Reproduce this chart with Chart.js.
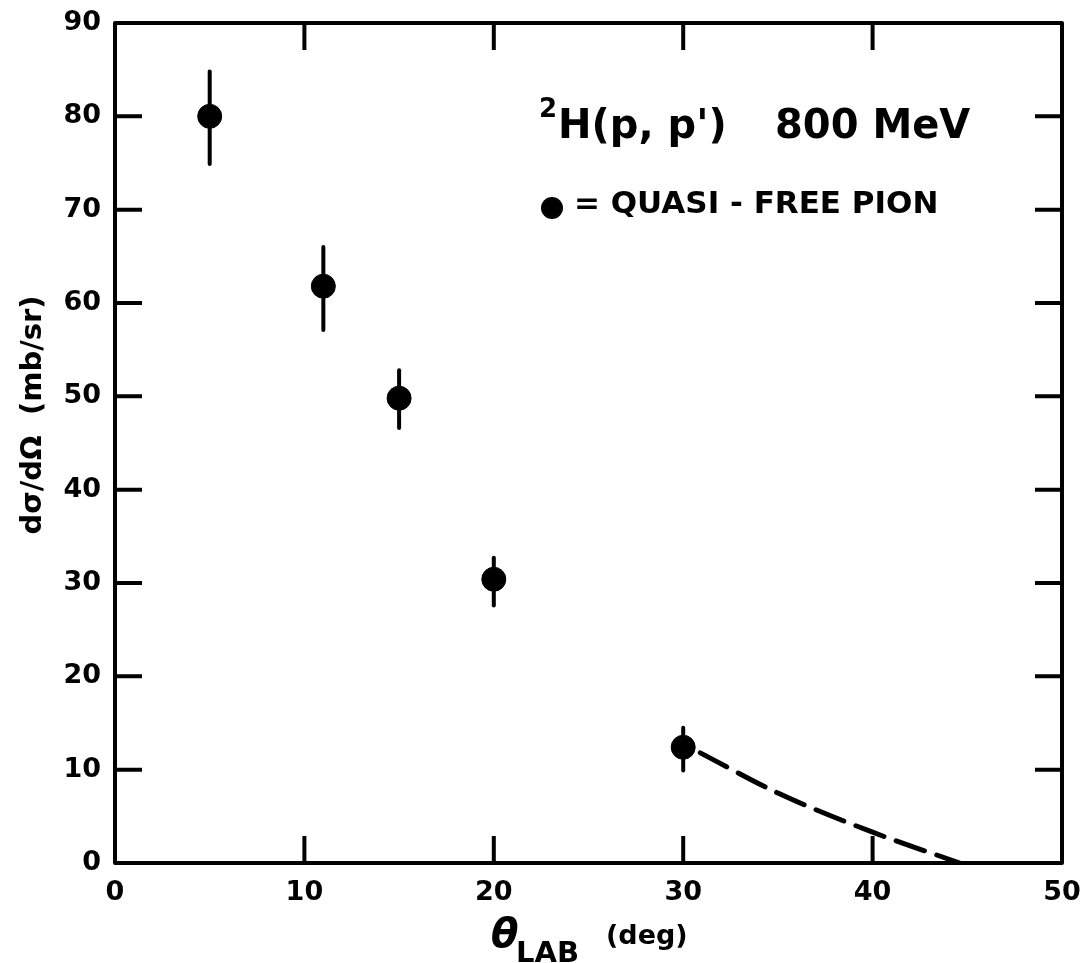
<!DOCTYPE html>
<html>
<head>
<meta charset="utf-8">
<script src="https://cdn.jsdelivr.net/npm/chart.js@4.4.0/dist/chart.umd.min.js"></script>
<style>
  html, body { margin: 0; padding: 0; background: #fff; }
  #wrap { width: 1087px; height: 963px; position: relative; }
</style>
</head>
<body>
<div id="wrap"><canvas id="myChart"></canvas></div>
<script>
// measured cross sections, 2H(p,p') at 800 MeV
let angles = [5, 11, 15, 20, 30];
let crossSection = [80, 61.8, 49.8, 30.4, 12.4];
let errUp = [4.8, 4.2, 3.0, 2.3, 2.1];
let errDown = [5.1, 4.7, 3.2, 2.8, 2.5];

// quasi-free pion estimate (dashed)
let curveX = [30.9, 35, 40, 44.6];
let curveY = [11.8, 7.5, 3.3, 0];

let xTicks = [0, 10, 20, 30, 40, 50];
let yTicks = [0, 10, 20, 30, 40, 50, 60, 70, 80, 90];

const FONT = 'DejaVu Sans';

function toPoints(xs, ys) {
    return xs.map((x, i) => ({ x: x, y: ys[i] }));
}

// no extra room for half-labels, the layout padding sets the box
function noLabelPadding(s) {
    s.paddingTop = 0;
    s.paddingBottom = 0;
    s.paddingLeft = 0;
    s.paddingRight = 0;
}

// error bars under the markers
const errorBars = {
    id: 'errorBars',
    beforeDatasetsDraw(chart) {
        const ctx = chart.ctx;
        const xs = chart.scales.x, ys = chart.scales.y;
        ctx.save();
        ctx.strokeStyle = '#000';
        ctx.lineWidth = 4;
        ctx.lineCap = 'round';
        angles.forEach((a, i) => {
            const px = xs.getPixelForValue(a);
            ctx.beginPath();
            ctx.moveTo(px, ys.getPixelForValue(crossSection[i] + errUp[i]));
            ctx.lineTo(px, ys.getPixelForValue(crossSection[i] - errDown[i]));
            ctx.stroke();
        });
        ctx.restore();
    }
};

// box frame, inward ticks, axis titles and the annotation text
const frame = {
    id: 'frame',
    afterDraw(chart) {
        const ctx = chart.ctx;
        const a = chart.chartArea;
        const xs = chart.scales.x, ys = chart.scales.y;
        const tl = 27;
        ctx.save();
        ctx.strokeStyle = '#000';
        ctx.lineWidth = 4;
        ctx.lineJoin = 'round';
        ctx.strokeRect(a.left, a.top, a.right - a.left, a.bottom - a.top);

        ctx.beginPath();
        xTicks.slice(1, -1).forEach(v => {
            const px = xs.getPixelForValue(v);
            ctx.moveTo(px, a.bottom); ctx.lineTo(px, a.bottom - tl);
            ctx.moveTo(px, a.top); ctx.lineTo(px, a.top + tl);
        });
        yTicks.slice(1, -1).forEach(v => {
            const py = ys.getPixelForValue(v);
            ctx.moveTo(a.left, py); ctx.lineTo(a.left + tl, py);
            ctx.moveTo(a.right, py); ctx.lineTo(a.right - tl, py);
        });
        ctx.stroke();

        ctx.fillStyle = '#000';
        ctx.textBaseline = 'alphabetic';
        ctx.textAlign = 'left';

        // x title: theta_LAB (deg)
        ctx.font = 'italic bold 40px "' + FONT + '"';
        ctx.fillText('θ', 491, 947);
        ctx.font = 'bold 29px "' + FONT + '"';
        ctx.fillText('LAB', 516, 962);
        ctx.font = 'bold 27px "' + FONT + '"';
        ctx.fillText('(deg)', 606, 944);

        // y title
        ctx.save();
        ctx.translate(41, 415);
        ctx.rotate(-Math.PI / 2);
        ctx.textAlign = 'center';
        ctx.font = 'bold 29px "' + FONT + '"';
        ctx.fillText('dσ/dΩ  (mb/sr)', 0, 0);
        ctx.restore();

        // reaction label
        ctx.font = 'bold 26px "' + FONT + '"';
        ctx.fillText('2', 539, 117);
        ctx.font = 'bold 40px "' + FONT + '"';
        ctx.fillText("H(p, p')", 558, 138);
        ctx.fillText('800 MeV', 775, 138);

        // legend
        ctx.beginPath();
        ctx.arc(552, 208, 11, 0, Math.PI * 2);
        ctx.fill();
        ctx.font = 'bold 31px "' + FONT + '"';
        ctx.fillText('= QUASI - FREE PION', 574, 213);
        ctx.restore();
    }
};

let ctx = document.getElementById('myChart').getContext('2d');

let myChart = new Chart(ctx, {
    type: 'scatter',
    data: {
        datasets: [
            {
                label: 'data',
                data: toPoints(angles, crossSection),
                backgroundColor: '#000',
                borderColor: '#000',
                pointRadius: 12,
                pointHoverRadius: 12,
                showLine: false
            },
            {
                label: 'quasi-free pion',
                data: toPoints(curveX, curveY),
                borderColor: '#000',
                borderWidth: 5,
                borderDash: [30, 13],
                borderCapStyle: 'round',
                pointRadius: 0,
                showLine: true,
                cubicInterpolationMode: 'monotone'
            }
        ]
    },
    options: {
        responsive: true,
        maintainAspectRatio: false,
        devicePixelRatio: 1,
        animation: false,
        events: [],
        layout: { padding: { top: 23, right: 25, left: 0, bottom: 0 } },
        plugins: {
            legend: { display: false },
            tooltip: { enabled: false }
        },
        scales: {
            x: {
                type: 'linear',
                min: 0,
                max: 50,
                afterBuildTicks: s => { s.ticks = xTicks.map(v => ({ value: v })); },
                afterFit: s => { s.height = 100; noLabelPadding(s); },
                grid: { display: false, drawTicks: false },
                border: { display: false },
                ticks: {
                    color: '#000',
                    padding: 14,
                    maxRotation: 0,
                    font: { family: FONT, size: 27, weight: 'bold' }
                }
            },
            y: {
                type: 'linear',
                min: 0,
                max: 90,
                afterBuildTicks: s => { s.ticks = yTicks.map(v => ({ value: v })); },
                afterFit: s => { s.width = 115; noLabelPadding(s); },
                grid: { display: false, drawTicks: false },
                border: { display: false },
                ticks: {
                    color: '#000',
                    padding: 14,
                    font: { family: FONT, size: 27, weight: 'bold' }
                }
            }
        }
    },
    plugins: [errorBars, frame]
});
</script>
</body>
</html>
